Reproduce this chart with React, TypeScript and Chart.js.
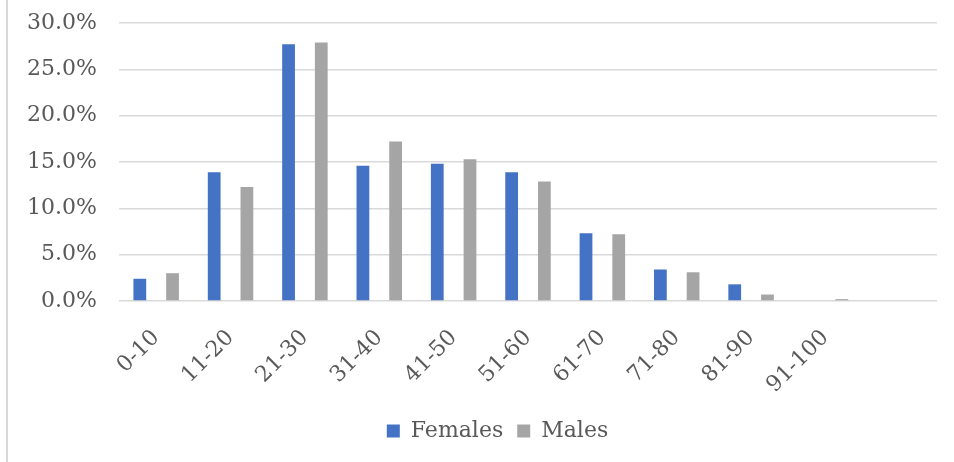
import React, { useEffect, useRef } from "react";
import { Chart, registerables } from "chart.js";

Chart.register(...registerables);

const categories = ["0-10", "11-20", "21-30", "31-40", "41-50", "51-60", "61-70", "71-80", "81-90", "91-100", ""];
const females: (number | null)[] = [0.024, 0.139, 0.277, 0.146, 0.148, 0.139, 0.073, 0.034, 0.018, 0.0, null];
const males: (number | null)[] = [0.030, 0.123, 0.279, 0.172, 0.153, 0.129, 0.072, 0.031, 0.007, 0.002, null];
const seriesNames = ["Females", "Males"];
const yTicks = [0, 0.05, 0.1, 0.15, 0.2, 0.25, 0.3];

const FONT = "'DejaVu Serif', serif";
const TEXT = "#595959";

const legendShift = {
  id: "legendShift",
  afterLayout(chart: any) {
    const lg = chart.legend;
    if (lg) {
      lg.left += 24;
      lg.right += 24;
    }
  },
};

export default function App() {
  const ref = useRef<HTMLCanvasElement | null>(null);
  useEffect(() => {
    if (!ref.current) return;
    const chart = new Chart(ref.current, {
      type: "bar",
      data: {
        labels: categories,
        datasets: [
          { label: seriesNames[0], data: females, backgroundColor: "#4472C4", categoryPercentage: 0.88, barPercentage: 0.39 },
          { label: seriesNames[1], data: males, backgroundColor: "#A5A5A5", categoryPercentage: 0.88, barPercentage: 0.39 },
        ],
      },
      plugins: [legendShift],
      options: {
        animation: false,
        responsive: false,
        maintainAspectRatio: false,
        layout: { padding: { top: 23, right: 17, bottom: 10, left: 10 } },
        plugins: {
          tooltip: { enabled: false },
          legend: {
            position: "bottom",
            labels: {
              boxWidth: 13,
              boxHeight: 13,
              padding: 14,
              color: TEXT,
              font: { family: FONT, size: 22 },
            },
          },
        },
        scales: {
          x: {
            grid: { display: false },
            border: { display: false },
            ticks: {
              autoSkip: false,
              maxRotation: 45,
              minRotation: 45,
              padding: 16,
              color: TEXT,
              font: { family: FONT, size: 22 },
            },
            afterFit: (s: any) => { s.height = 105; s.paddingLeft = 0; s.paddingRight = 0; },
          },
          y: {
            min: 0,
            max: 0.3,
            afterBuildTicks: (s: any) => { s.ticks = yTicks.map((v) => ({ value: v })); },
            grid: { color: "#d9d9d9", lineWidth: 1.5, drawTicks: false },
            border: { display: false },
            ticks: {
              padding: 22,
              color: TEXT,
              font: { family: FONT, size: 22 },
              callback: (v: any) => (Number(v) * 100).toFixed(1) + "%",
            },
            afterFit: (s: any) => { s.width = 109; s.paddingTop = 0; s.paddingBottom = 0; },
          },
        },
      },
    });
    return () => chart.destroy();
  }, []);
  return (
    <div style={{ position: "fixed", left: 0, top: 0, width: 954, height: 462, background: "#fff" }}>
      <div style={{ position: "absolute", left: 6, top: 0, width: 2, height: 462, background: "#d9d9d9" }} />
      <canvas ref={ref} width={954} height={462} style={{ position: "absolute", left: 0, top: 0 }} />
    </div>
  );
}
